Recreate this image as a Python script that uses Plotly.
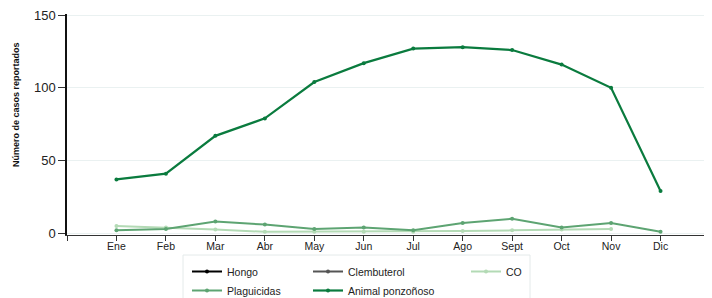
import plotly.graph_objects as go

months = ["Ene", "Feb", "Mar", "Abr", "May", "Jun", "Jul", "Ago", "Sept", "Oct", "Nov", "Dic"]
month_pos = [1, 2, 3, 4, 5, 6, 7, 8, 9, 10, 11, 12]

hongo = [None] * 12
clembuterol = [None] * 12
co = [5, 4, 2.5, 1, 1, 1, 1, 1.5, 2, 2.5, 3, None]
plaguicidas = [2, 3, 8, 6, 3, 4, 2, 7, 10, 4, 7, 1]
animal = [37, 41, 67, 79, 104, 117, 127, 128, 126, 116, 100, 29]

OFF = 8  # default page body margin
W, H = 704, 290
L, R, T, B = 59, 2, 6, 63
PW, PH = W - L - R, H - T - B

def px2paper_x(px):
    return (px - OFF - L) / PW

def px2paper_y(py):
    return (H - B - (py - OFF)) / PH

series = [
    ("Hongo", hongo, "#000000", 2, "legend"),
    ("Clembuterol", clembuterol, "#555555", 2, "legend2"),
    ("CO", co, "#b3dab5", 2, "legend3"),
    ("Plaguicidas", plaguicidas, "#5da472", 2, "legend"),
    ("Animal ponzoñoso", animal, "#0a7b3e", 2.2, "legend2"),
]

fig = go.Figure()
for name, vals, color, lw, leg in series:
    fig.add_trace(go.Scatter(
        x=month_pos, y=vals, name=name, mode="lines+markers",
        line=dict(color=color, width=lw),
        marker=dict(color=color, size=4),
        legend=leg,
    ))

font = dict(family="Liberation Sans, Arial, sans-serif", size=10.5, color="#222222")

def legend_at(px, py):
    return dict(
        xref="container", yref="container",
        x=(px - OFF) / W, y=1 - (py - OFF) / H, xanchor="left", yanchor="top",
        orientation="v", bgcolor="rgba(0,0,0,0)", borderwidth=0,
        font=font, itemwidth=30, tracegroupgap=0,
    )

fig.update_layout(
    width=W, height=H,
    margin=dict(l=L, r=R, t=T, b=B, autoexpand=False),
    plot_bgcolor="white", paper_bgcolor="white",
    font=font,
    showlegend=True,
    legend=legend_at(187, 257),
    legend2=legend_at(308, 257),
    legend3=legend_at(466, 257),
    xaxis=dict(
        range=[0, 13], tickmode="array",
        tickvals=[0] + month_pos + [13],
        ticktext=[""] + months + [""],
        showgrid=False, zeroline=False,
        showline=True, linecolor="#333333", linewidth=1.3,
        ticks="outside", ticklen=5, tickcolor="#333333", tickwidth=1.3,
        tickfont=font, automargin=False, ticklabelstandoff=-4,
    ),
    yaxis=dict(
        range=[-1.2, 150.8], tickvals=[0, 50, 100, 150],
        showgrid=True, gridcolor="#eaf1f1", gridwidth=1,
        zeroline=False, automargin=False, ticklabeloverflow="allow",
        showline=True, linecolor="#111111", linewidth=1.5,
        ticks="outside", ticklen=7, tickcolor="#333333", tickwidth=1.3,
        tickfont=dict(family="Liberation Sans, Arial, sans-serif", size=13, color="#222222"),
    ),
    annotations=[dict(
        text="<b>Número de casos reportados</b>", textangle=-90,
        xref="paper", yref="paper",
        x=px2paper_x(16), y=px2paper_y(105), xanchor="center", yanchor="middle",
        showarrow=False,
        font=dict(family="Liberation Sans Narrow, Liberation Sans, Arial, sans-serif", size=9, color="#111111"),
    )],
    shapes=[dict(
        type="rect", xref="paper", yref="paper",
        x0=px2paper_x(183), x1=px2paper_x(530),
        y0=px2paper_y(305), y1=px2paper_y(255),
        line=dict(color="#e4eaea", width=1), fillcolor="rgba(0,0,0,0)", layer="below",
    )],
)

fig.write_html("out.html")
